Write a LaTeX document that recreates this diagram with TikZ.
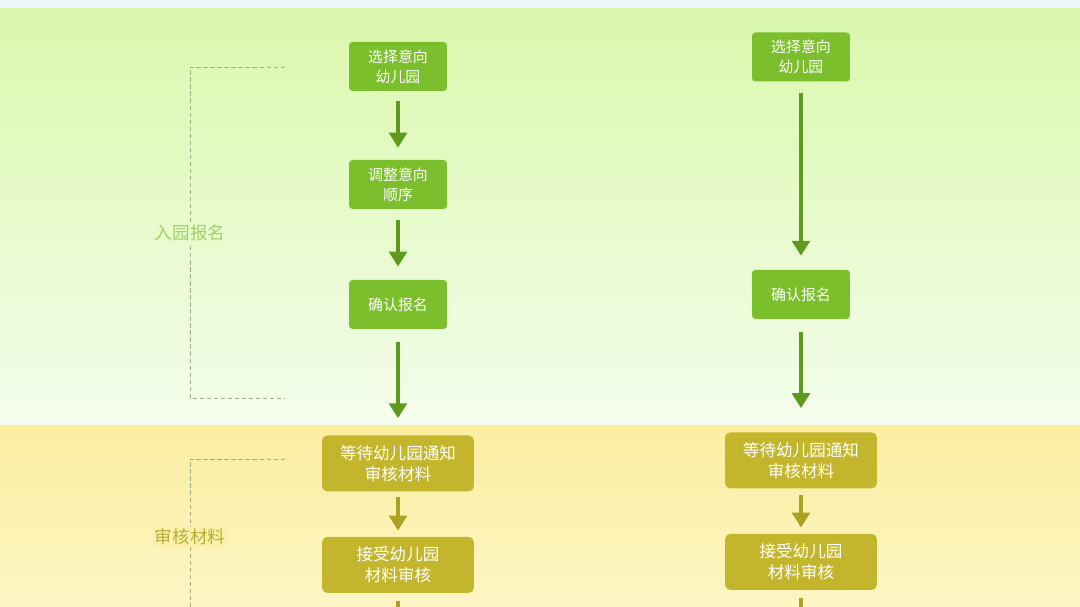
\documentclass[tikz,border=0pt]{standalone}
\usepackage{fontspec}
\newfontfamily\cjk{Noto Sans CJK SC}
\usepackage{tikz}
\usetikzlibrary{arrows.meta}
\usetikzlibrary{positioning}
\definecolor{boxgreen}{HTML}{7CBF2C}
\definecolor{arrowgreen}{HTML}{5E9A1E}
\definecolor{boxolive}{HTML}{C3B62C}
\definecolor{arrowolive}{HTML}{ABA224}
\definecolor{labelgreen}{HTML}{9FD06A}
\definecolor{labelolive}{HTML}{B9AE33}
\definecolor{dashgray}{HTML}{9FAC88}
\tikzset{
  >={Triangle[width=10pt,length=8.5pt]},
  flow/.style={draw, ->, line width=2.2pt},
}

\begin{document}
\begin{tikzpicture}[x=0.02cm, y=-0.02cm, font=\cjk]
    % Define styles
    \tikzstyle{gbox} = [rectangle, fill=boxgreen, text=white, align=center, rounded corners=2pt, minimum width=1.96cm, minimum height=0.98cm, font=\cjk\fontsize{8.5}{11.3}\selectfont]
    \tikzstyle{ybox} = [rectangle, fill=boxolive, text=white, align=center, rounded corners=3pt, minimum width=3.04cm, minimum height=1.12cm, font=\cjk\fontsize{9.4}{12.2}\selectfont]
    \tikzstyle{gline} = [flow, arrowgreen]
    \tikzstyle{yline} = [flow, arrowolive]
    \tikzstyle{bracket} = [draw=dashgray, line width=0.5pt, dash pattern=on 2.5pt off 1.5pt]

    \clip (0,0) rectangle (1080,607);

    % Background bands
    \fill[color={rgb,255:red,238;green,246;blue,249}] (0,0) rectangle (1080,9);
    \shade[top color={rgb,255:red,218;green,248;blue,172}, bottom color={rgb,255:red,244;green,253;blue,236}] (0,9) rectangle (1080,426);
    \shade[top color={rgb,255:red,250;green,238;blue,160}, bottom color={rgb,255:red,253;green,246;blue,196}] (0,426) rectangle (1080,607);

    % Place nodes - left column
    \node [gbox] (selL) at (398,66.5) {选择意向\\幼儿园};
    \node [gbox, below of=selL, node distance=2.36cm] (adjL) {调整意向\\顺序};
    \node [gbox, below of=adjL, node distance=2.4cm] (conL) {确认报名};
    \node [ybox, below of=conL, node distance=3.18cm] (waitL) {等待幼儿园通知\\审核材料};
    \node [ybox, below of=waitL, node distance=2.03cm] (accL) {接受幼儿园\\材料审核};
    \coordinate (endL) at (398,660);

    % Place nodes - right column
    \node [gbox] (selR) at (801,57) {选择意向\\幼儿园};
    \node [gbox, below of=selR, node distance=4.75cm] (conR) {确认报名};
    \node [ybox, below of=conR, node distance=3.32cm] (waitR) {等待幼儿园通知\\审核材料};
    \node [ybox, below of=waitR, node distance=2.03cm] (accR) {接受幼儿园\\材料审核};
    \coordinate (endR) at (801,660);

    % Stage brackets and labels
    \draw [bracket] (285,67) -- (190,67) -- (190,398) -- (285,398);
    \draw [bracket] (285,459) -- (190,459) -- (190,610);
    \node [fill={rgb,255:red,231;green,251;blue,205}, inner sep=1pt, text=labelgreen, font=\cjk\fontsize{10}{12}\selectfont] (stage1) at (190,233) {入园报名};
    \node [fill={rgb,255:red,251;green,241;blue,172}, inner sep=1pt, text=labelolive, font=\cjk\fontsize{10}{12}\selectfont] (stage2) at (190,537) {审核材料};

    % Draw edges - left column
    \path [gline, shorten <=5.7pt, shorten >=6.8pt] (selL) -- (adjL);
    \path [gline, shorten <=6.2pt, shorten >=7.4pt] (adjL) -- (conL);
    \path [gline, shorten <=7.4pt, shorten >=9.6pt] (conL) -- (waitL);
    \path [yline, shorten <=2.8pt, shorten >=3.4pt] (waitL) -- (accL);
    \path [yline, shorten <=4.5pt] (accL) -- (endL);

    % Draw edges - right column
    \path [gline, shorten <=6.2pt, shorten >=7.9pt] (selR) -- (conR);
    \path [gline, shorten <=7.4pt, shorten >=13.6pt] (conR) -- (waitR);
    \path [yline, shorten <=3.4pt, shorten >=3.4pt] (waitR) -- (accR);
    \path [yline, shorten <=4.5pt] (accR) -- (endR);
\end{tikzpicture}
\end{document}
